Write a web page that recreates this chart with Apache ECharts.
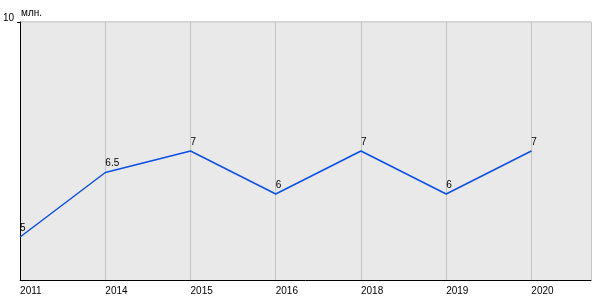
<!DOCTYPE html>
<html><head><meta charset="utf-8">
<script src="https://cdn.jsdelivr.net/npm/echarts@6/dist/echarts.min.js"></script>
<style>html,body{margin:0;padding:0;background:#fff}#c{width:600px;height:300px}</style>
</head><body><div id="c"></div>
<script>
const years = ['2011','2014','2015','2016','2018','2019','2020'];
const values = [5, 6.5, 7, 6, 7, 6, 7];
const yTickLabels = [10];
const unit = 'млн.';

const chart = echarts.init(document.getElementById('c'), null, {renderer:'canvas'});
chart.setOption({
  animation:false,
  grid:{left:20,right:9,top:22,bottom:20,show:true,backgroundColor:'#e9e9e9',borderWidth:0},
  xAxis:{type:'value',min:0,max:6.7,interval:1,
    axisLine:{show:true,lineStyle:{color:'#000',width:1}},
    axisTick:{show:false},
    splitLine:{show:true,lineStyle:{color:'#c4c4c4',width:1}},
    axisLabel:{align:'left',margin:6,color:'#000',fontFamily:'Liberation Sans',fontSize:10,
      formatter:v=>years[Math.round(v)]||''}},
  yAxis:{type:'value',min:4,max:10,interval:6,name:unit,nameLocation:'end',nameGap:4,
    nameTextStyle:{align:'left',color:'#000',fontFamily:'Liberation Sans',fontSize:10,padding:[0,0,0,1]},
    axisLine:{show:true,lineStyle:{color:'#000',width:1}},
    axisTick:{show:true,length:3,customValues:yTickLabels,lineStyle:{color:'#000'}},
    splitLine:{show:true,lineStyle:{color:'#d6d6d6',width:2}},
    axisLabel:{customValues:yTickLabels,margin:6,verticalAlign:'bottom',lineHeight:7,color:'#000',fontFamily:'Liberation Sans',fontSize:10}},
  series:[{type:'line',data:values.map((v,i)=>[i,v]),showSymbol:true,symbol:'circle',symbolSize:0.5,
    itemStyle:{color:'#0a4fe8'},
    lineStyle:{color:'#0a4fe8',width:1.5},
    label:{show:true,position:'top',align:'left',distance:4,color:'#000',
      fontFamily:'Liberation Sans',fontSize:10,formatter:p=>String(p.value[1])}}]
});
</script></body></html>
